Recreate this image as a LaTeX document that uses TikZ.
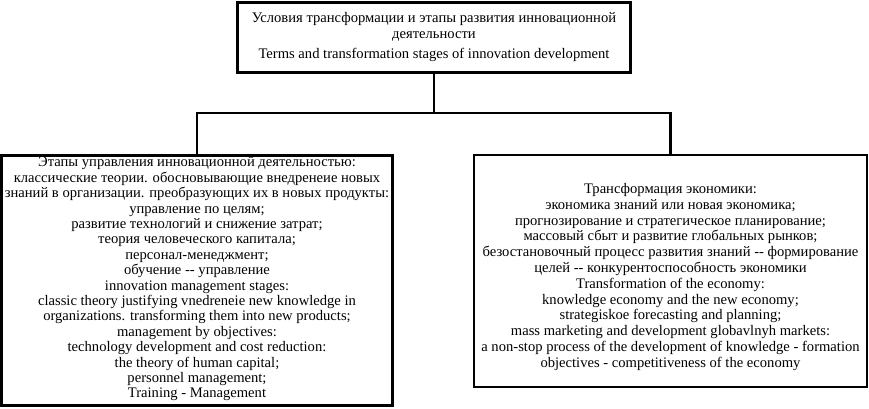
\documentclass[tikz,border=0pt]{standalone}
\usepackage{fontspec}
\setmainfont{Liberation Serif}
\tikzset{
  frame/.style={draw, line width=2.4pt, rectangle, inner sep=0pt},
  txt/.style={inner sep=0pt, align=center},
  link/.style={line width=2.4pt},
}
\begin{document}
\begin{tikzpicture}[x=1pt,y=-1pt]
\useasboundingbox (0,0) rectangle (869,409);
\node[frame, minimum width=393, minimum height=70] (top) at (434,37.5) {};
\node[txt, font=\fontsize{14.6}{16}\selectfont] (toptext) at (434,37)
  {Условия трансформации и этапы развития инновационной\\деятельности\\[4pt]
   Terms and transformation stages of innovation development};
\node[frame, minimum width=391, minimum height=250] (left) at (197,280.5) {};
\node[txt, font=\fontsize{14.6}{15.4}\selectfont] (lefttext) at (197,279)
  {Этапы управления инновационной деятельностью:\\
   классические теории. обосновывающие внедренеие новых\\
   знаний в организации. преобразующих их в новых продукты:\\
   управление по целям;\\
   развитие технологий и снижение затрат;\\
   теория человеческого капитала;\\
   персонал-менеджмент;\\
   обучение -{}- управление\\
   innovation management stages:\\
   classic theory justifying vnedreneie new knowledge in\\
   organizations. transforming them into new products;\\
   management by objectives:\\
   technology development and cost reduction:\\
   the theory of human capital;\\
   personnel management;\\
   Training - Management};
\node[frame, minimum width=393, minimum height=232] (right) at (670.5,271) {};
\node[txt, font=\fontsize{14.6}{15.8}\selectfont] (righttext) at (670.5,277)
  {Трансформация экономики:\\
   экономика знаний или новая экономика;\\
   прогнозирование и стратегическое планирование;\\
   массовый сбыт и развитие глобальных рынков;\\
   безостановочный процесс развития знаний -{}- формирование\\
   целей -{}- конкурентоспособность экономики\\
   Transformation of the economy:\\
   knowledge economy and the new economy;\\
   strategiskoe forecasting and planning;\\
   mass marketing and development globavlnyh markets:\\
   a non-stop process of the development of knowledge - formation\\
   objectives - competitiveness of the economy};
\coordinate (j) at (434,113);
\draw[link] (top.south) -- (j);
\draw[link] (left.north) |- (j) -| (right.north);
\end{tikzpicture}
\end{document}
